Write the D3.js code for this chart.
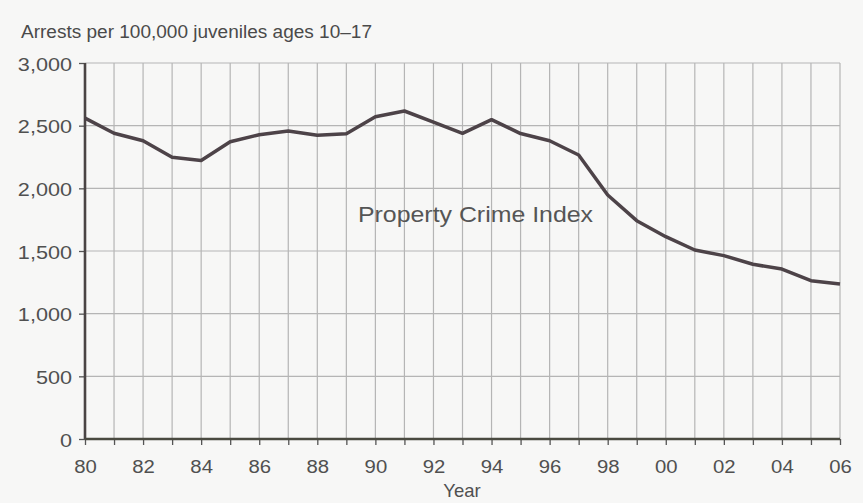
<!DOCTYPE html>
<html>
<head>
<meta charset="utf-8">
<script src="https://cdn.jsdelivr.net/npm/d3@7"></script>
<style>
  html, body { margin: 0; padding: 0; background: #f7f7f6; }
  svg { display: block; font-family: "Liberation Sans", Arial, sans-serif; }
</style>
</head>
<body>
<svg id="chart" width="863" height="503"></svg>
<script>
const years = d3.range(1980, 2007);
const arrests = [2560, 2440, 2380, 2248, 2222, 2372, 2428, 2457, 2423, 2436,
                 2571, 2617, 2528, 2439, 2548, 2437, 2380, 2266, 1947, 1742,
                 1614, 1508, 1463, 1394, 1356, 1263, 1237];
const yTicks = [0, 500, 1000, 1500, 2000, 2500, 3000];
const xTickYears = d3.range(1980, 2007, 2);
const titleText = "Arrests per 100,000 juveniles ages 10\u201317";
const seriesLabel = "Property Crime Index";
const xAxisTitle = "Year";

(function () {
const svg = d3.select("#chart");
const mLeft = 85, mRight = 840, mTop = 63, mBottom = 439;
const FONT = "Liberation Sans, Arial, sans-serif";

const x = d3.scaleLinear().domain([1980, 2006]).range([mLeft, mRight]);
const y = d3.scaleLinear().domain([0, 3000]).range([mBottom, mTop]);

// grid
const grid = svg.append("g").attr("stroke", "#b5b5b5").attr("stroke-width", 1.2);
grid.selectAll("line.v").data(years.slice(1)).join("line").attr("class", "v")
  .attr("x1", d => x(d)).attr("x2", d => x(d))
  .attr("y1", y(0)).attr("y2", y(3000));
grid.selectAll("line.h").data(yTicks.slice(1)).join("line").attr("class", "h")
  .attr("x1", x(1980)).attr("x2", x(2006))
  .attr("y1", d => y(d)).attr("y2", d => y(d));

// horizontal stretch helper (the scanned original is slightly wide)
function stretch(sel, sx) {
  sel.each(function () {
    const t = d3.select(this);
    const tx = +t.attr("x") || 0, ty = +t.attr("y") || 0;
    t.attr("x", 0).attr("y", 0).attr("transform", `translate(${tx},${ty}) scale(${sx},1)`);
  });
}

// x axis
const xAxis = d3.axisBottom(x).tickValues(years).tickSize(6)
  .tickFormat(d => xTickYears.includes(d) ? String(d % 100).padStart(2, "0") : "");
const gx = svg.append("g").attr("transform", `translate(0,${mBottom})`).call(xAxis);
gx.select(".domain").remove();
gx.selectAll(".tick line").attr("stroke", "#555").attr("stroke-width", 1.3);
gx.selectAll(".tick text").attr("fill", "#505050").attr("font-size", 19)
  .attr("font-family", FONT).attr("dy", null).attr("y", 34);
stretch(gx.selectAll(".tick text"), 1.07);

// y axis
const yAxis = d3.axisLeft(y).tickValues(yTicks).tickSize(6).tickPadding(7)
  .tickFormat(d3.format(","));
const gy = svg.append("g").attr("transform", `translate(${mLeft},0)`).call(yAxis);
gy.select(".domain").remove();
gy.selectAll(".tick line").attr("stroke", "#555").attr("stroke-width", 1.3);
gy.selectAll(".tick text").attr("fill", "#505050").attr("font-size", 18.5)
  .attr("font-family", FONT).attr("dy", null).attr("y", 7);
stretch(gy.selectAll(".tick text"), 1.17);

// axis lines
svg.append("line").attr("x1", mLeft).attr("x2", mLeft).attr("y1", y(3000)).attr("y2", mBottom)
  .attr("stroke", "#4a4444").attr("stroke-width", 2.6);
svg.append("line").attr("x1", mLeft).attr("x2", mRight).attr("y1", mBottom).attr("y2", mBottom)
  .attr("stroke", "#4a4a40").attr("stroke-width", 2.6);

// data line
const line = d3.line().x((d, i) => x(years[i])).y(d => y(d));
svg.append("path").datum(arrests).attr("d", line)
  .attr("fill", "none").attr("stroke", "#4d4348").attr("stroke-width", 3.5)
  .attr("stroke-linejoin", "round");

// texts
svg.append("text").attr("x", 21).attr("y", 38).text(titleText)
  .attr("font-size", 17.5).attr("fill", "#4a4a4a").attr("font-family", FONT)
  .attr("textLength", 351).attr("lengthAdjust", "spacingAndGlyphs");
svg.append("text").attr("x", 358).attr("y", 222).text(seriesLabel)
  .attr("font-size", 22).attr("fill", "#555").attr("font-family", FONT)
  .attr("textLength", 235).attr("lengthAdjust", "spacingAndGlyphs");
svg.append("text").attr("x", 462).attr("y", 497).attr("text-anchor", "middle").text(xAxisTitle)
  .attr("font-size", 18.5).attr("fill", "#505050").attr("font-family", FONT);
})();
</script>
</body>
</html>
